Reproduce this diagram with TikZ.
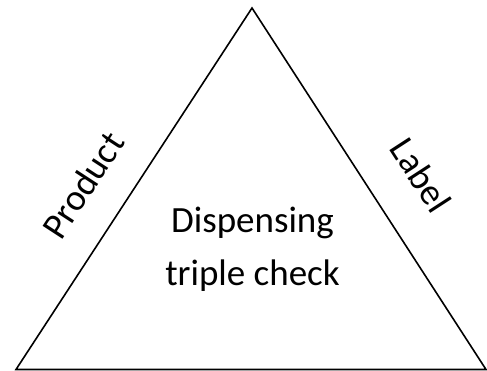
\documentclass[tikz,border=0pt]{standalone}
\usepackage{fontspec}
\setmainfont{Carlito}
\begin{document}
\begin{tikzpicture}[x=1pt,y=1pt,
  edge/.style={draw=black,line width=1.6pt,line join=miter},
  lbl/.style={font=\fontsize{37}{53}\selectfont,inner sep=0pt,align=center}]
\useasboundingbox (0,0) rectangle (487,371);
\coordinate (L) at (16,1.5);
\coordinate (R) at (486,1.5);
\coordinate (T) at (252,363);
\draw[edge] (L) -- (T) -- (R) -- cycle;
\node[lbl] (center) at (252.5,122) {Dispensing\\triple check};
\node[lbl,rotate=56.9] (product) at (83,186) {Product};
\node[lbl,rotate=-57] (label) at (421,196) {Label};
\end{tikzpicture}
\end{document}
